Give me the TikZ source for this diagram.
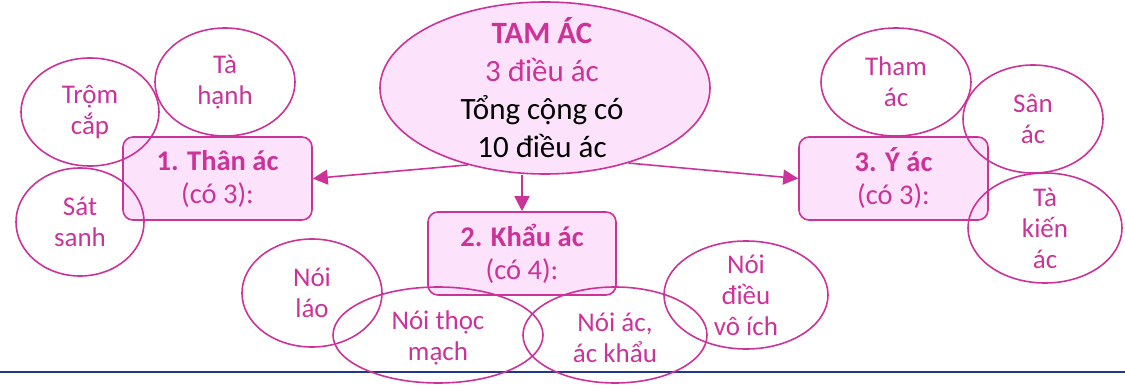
\documentclass[tikz,border=0pt]{standalone}
\usepackage{fontspec}
\setmainfont{Carlito}
\usetikzlibrary{shapes.geometric,arrows.meta}
\definecolor{mag}{RGB}{204,51,153}
\definecolor{pinkfill}{RGB}{253,226,251}
\definecolor{navy}{RGB}{31,56,140}
\begin{document}
\begin{tikzpicture}[x=1pt,y=-1pt,
  oval/.style={ellipse,draw=mag,line width=1.6pt,inner sep=0pt},
  otext/.style={text=mag,align=center,inner sep=0pt,font=\fontsize{27}{31}\selectfont},
  catbox/.style={rectangle,rounded corners=10pt,draw=mag,fill=pinkfill,line width=1.6pt,text=mag,align=center,inner sep=0pt,font=\fontsize{28.5}{33}\selectfont},
  conn/.style={draw=mag,line width=1.6pt,-{Triangle[length=15pt,width=15pt]}}]
\useasboundingbox (0,0) rectangle (1125,385);
% bottom rule
\coordinate (rl) at (0,372);
\coordinate (rr) at (1125,372);
\draw[navy,line width=2pt] (rl) -- (rr);
% central ellipse
\node[oval,fill=pinkfill,minimum width=330pt,minimum height=172pt] (main) at (545,88) {};
\node[text=mag,align=center,inner sep=0pt,font=\fontsize{31}{38}\selectfont] (maint) at (542,88)
  {\textbf{TAM ÁC}\\3 điều ác\\{\color{black}Tổng cộng có}\\{\color{black}10 điều ác}};
% category boxes
\node[catbox,minimum width=189pt,minimum height=83pt] (box1) at (217.5,178.5) {\textbf{1. Thân ác}\\(có 3):};
\node[catbox,minimum width=188pt,minimum height=83pt] (box2) at (522,253.5) {\textbf{2. Khẩu ác}\\(có 4):};
\node[catbox,minimum width=189pt,minimum height=83pt] (box3) at (893.5,178.5) {\textbf{3. Ý ác}\\(có 3):};
% connectors
\draw[conn] (main.225) -- (box1.east);
\draw[conn] (main.318) -- (box3.west);
\draw[conn] (main.south -| box2.north) -- (box2.north);
% left group
\node[oval,minimum width=138pt,minimum height=108pt] (trom) at (90,112) {};
\node[otext] (tromt) at (trom.center) {Trộm\\cắp};
\node[oval,minimum width=140pt,minimum height=108pt] (tahanh) at (225,82) {};
\node[otext] (tahanht) at (tahanh.center) {Tà\\hạnh};
\node[oval,minimum width=128pt,minimum height=108pt] (satsanh) at (80,222) {};
\node[otext] (satsanht) at (satsanh.center) {Sát\\sanh};
% right group
\node[oval,minimum width=150pt,minimum height=108pt] (tham) at (896,82) {};
\node[otext] (thamt) at (tham.center) {Tham\\ác};
\node[oval,minimum width=140pt,minimum height=108pt] (san) at (1033,119) {};
\node[otext] (sant) at (san.center) {Sân\\ác};
\node[oval,minimum width=154pt,minimum height=110pt] (takien) at (1045,228) {};
\node[otext] (takient) at (takien.center) {Tà\\kiến\\ác};
% bottom group
\node[oval,minimum width=140pt,minimum height=108pt] (noilao) at (312,293) {};
\node[otext] (noilaot) at (noilao.center) {Nói\\láo};
\node[oval,minimum width=210pt,minimum height=96pt] (thoc) at (438,335) {};
\node[otext] (thoct) at (438,338) {Nói thọc\\mạch};
\node[oval,minimum width=184pt,minimum height=96pt] (noiac) at (615,335) {};
\node[otext] (noiact) at (615,338) {Nói ác,\\ác khẩu};
\node[oval,minimum width=164pt,minimum height=108pt] (voich) at (746,295) {};
\node[otext] (voicht) at (voich.center) {Nói\\điều\\vô ích};
\end{tikzpicture}
\end{document}
